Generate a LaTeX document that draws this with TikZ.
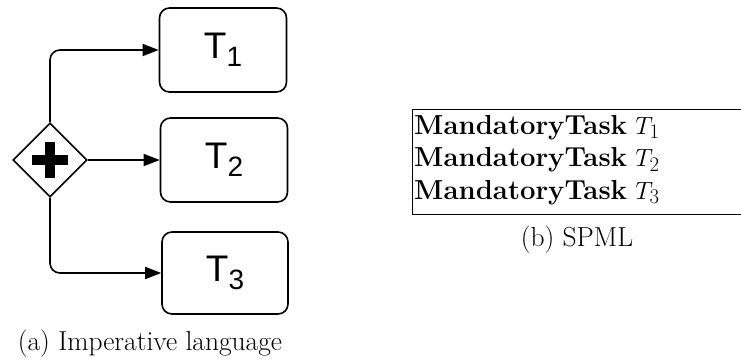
\documentclass[tikz,border=0pt]{standalone}
\usepackage{fontspec}
\newfontfamily\arialfont{Liberation Sans}
\usetikzlibrary{arrows.meta,shapes.geometric}
\begin{document}
\begin{tikzpicture}[x=1pt,y=-1pt,
  task/.style={draw, line width=1.6pt, rounded corners=10pt, minimum width=127pt,
    minimum height=84pt, inner sep=0pt, font=\arialfont\fontsize{37}{42}\selectfont},
  flow/.style={line width=1.6pt, rounded corners=10pt, -{Triangle[length=16pt,width=12pt]}},
  gate/.style={draw, diamond, line width=1.6pt, minimum width=74pt, minimum height=74pt, inner sep=0pt},
  caption/.style={font=\fontsize{27.5}{33}\selectfont, inner sep=0pt},
  spml/.style={font=\fontsize{27.5}{33}\selectfont, inner sep=0pt, anchor=base west},
  frame/.style={line width=1pt}]
\useasboundingbox (0,0) rectangle (741,362);
% gateway
\node[gate] (gw) at (50,160) {};
\fill (gw.center) ++(-18,-4.75) rectangle ++(36,9.5);
\fill (gw.center) ++(-4.75,-18) rectangle ++(9.5,36);
% tasks
\node[task] (t1) at (223,50) {T\raisebox{-8pt}{\fontsize{28}{30}\selectfont 1}};
\node[task] (t2) at (224,160) {T\raisebox{-8pt}{\fontsize{28}{30}\selectfont 2}};
\node[task, minimum height=82pt, minimum width=126pt] (t3) at (225,273) {T\raisebox{-8pt}{\fontsize{28}{30}\selectfont 3}};
% connectors
\draw[flow] (gw.north) |- (t1.west);
\draw[flow] (gw.east) -- (t2.west);
\draw[flow] (gw.south) |- (t3.west);
% caption a
\node[caption] (capa) at (150,344) {(a) Imperative language};
% SPML box
\coordinate (btl) at (412,109.5);
\coordinate (bbl) at (412,214);
\coordinate (btr) at (741,109.5);
\coordinate (bbr) at (741,214);
\draw[frame] (btr) -- (btl) -- (bbl) -- (bbr);
\node[spml] (r1) at (414,134) {\textbf{MandatoryTask} $T_1$};
\node[spml] (r2) at (414,166.5) {\textbf{MandatoryTask} $T_2$};
\node[spml] (r3) at (414,199) {\textbf{MandatoryTask} $T_3$};
\node[caption] (capb) at (577,240) {(b) SPML};
\end{tikzpicture}
\end{document}
